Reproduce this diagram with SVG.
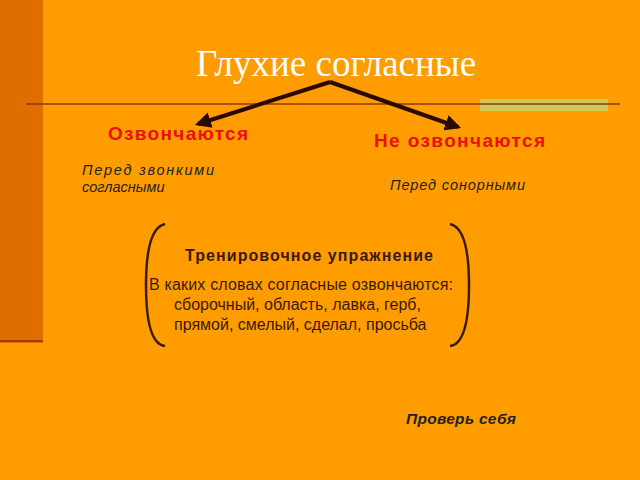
<svg xmlns="http://www.w3.org/2000/svg" width="640" height="480" viewBox="0 0 640 480">
<defs>
<style>
.s{font-family:"Liberation Sans",Arial,sans-serif}
.r{fill:#e8110f;font-weight:bold;font-size:19px}
.i{font-style:italic;font-size:14.5px;fill:#222}
.b{fill:#3a1a05;font-size:16px}
</style>
<marker id="a" viewBox="0 0 10 10" refX="8" refY="5" markerWidth="4" markerHeight="4" orient="auto"><path d="M0,0L10,5L0,10z" fill="#2a0a00"/></marker>
</defs>
<rect width="640" height="480" fill="#ff9c00"/>
<rect width="43" height="343" fill="#e06d00"/>
<rect x="0" y="340" width="43" height="2" fill="#a04000"/>
<rect x="480" y="99" width="128" height="12" fill="#cfc85a"/>
<line x1="26" y1="104" x2="620" y2="104" stroke="#8b3a10" stroke-width="1.5"/>
<g id="title"><text x="336" y="76" text-anchor="middle" font-family="Liberation Serif,serif" font-size="37" fill="#fff">Глухие согласные</text></g>
<g id="connectors" stroke="#2a0a00" stroke-width="4" fill="none">
<line x1="330" y1="82" x2="198" y2="124" marker-end="url(#a)"/>
<line x1="330" y1="82" x2="458" y2="127" marker-end="url(#a)"/>
</g>
<g id="left" class="s"><text x="108" y="140" class="r" textLength="140">Озвончаются</text><text x="82" y="175" class="i" textLength="132">Перед звонкими</text><text x="82" y="192" class="i">согласными</text></g>
<g id="right" class="s"><text x="374" y="147" class="r" textLength="171">Не озвончаются</text><text x="390" y="190" class="i" textLength="135">Перед сонорными</text></g>
<g id="exercise" class="s">
<path d="M165,224 Q146,228 146,285 Q146,344 165,346" fill="none" stroke="#3a1a05" stroke-width="2.5"/>
<path d="M450,224 Q469,228 469,285 Q469,344 450,346" fill="none" stroke="#3a1a05" stroke-width="2.5"/>
<text x="185" y="261" class="b" font-weight="bold" textLength="248">Тренировочное упражнение</text>
<text x="149" y="290" class="b" textLength="304">В каких словах согласные озвончаются:</text>
<text x="174" y="310" class="b">сборочный, область, лавка, герб,</text>
<text x="174" y="330" class="b">прямой, смелый, сделал, просьба</text>
</g>
<g id="check" class="s"><text x="406" y="424" font-size="15.5" font-weight="bold" font-style="italic" fill="#222" textLength="110">Проверь себя</text></g>
</svg>
